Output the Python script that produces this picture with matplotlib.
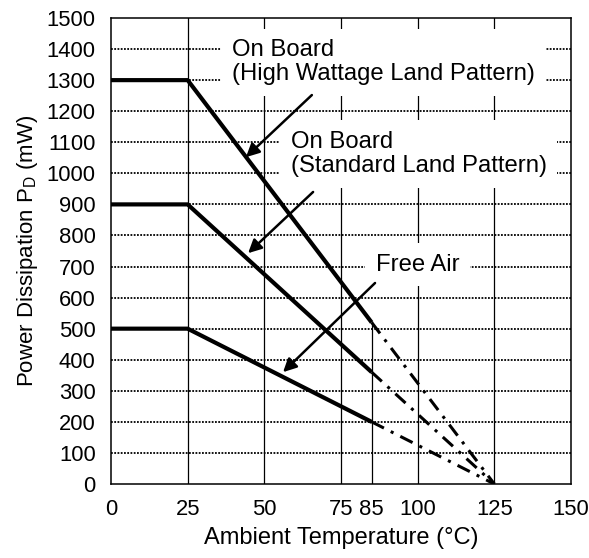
import matplotlib
matplotlib.use("Agg")
import matplotlib.pyplot as plt

plt.rcParams['font.family'] = ['Liberation Sans', 'DejaVu Sans']

# ---- data ----
temp_points = [0, 25, 85]          # solid part (°C)
temp_extrap = [85, 125]            # dash-dot extrapolation
hw_solid = [1300, 1300, 520]       # On Board (High Wattage Land Pattern)
hw_extrap = [520, 0]
std_solid = [900, 900, 360]        # On Board (Standard Land Pattern)
std_extrap = [360, 0]
air_solid = [500, 500, 200]        # Free Air
air_extrap = [200, 0]

x_ticks = [0, 25, 50, 75, 85, 100, 125, 150]
y_ticks = list(range(0, 1501, 100))
v_grid = [25, 50, 75, 100, 125]
drop_x = 85
drop_top = 520

labels = ["On Board\n(High Wattage Land Pattern)",
          "On Board\n(Standard Land Pattern)",
          "Free Air"]
label_pos = [(39.5, 1358), (58.6, 1062), (86.3, 706)]
arrow_tail = [(65.5, 1252), (65.9, 940), (86.1, 647)]
arrow_head = [(44.0, 1052), (44.7, 743), (56.1, 360)]

# ---- figure ----
fig = plt.figure(figsize=(5.89, 5.58), dpi=100)
ax = fig.add_axes([111/589, 1 - 484/558, 460/589, 466/558])
ax.set_xlim(0, 150)
ax.set_ylim(0, 1500)

# grid
for y in y_ticks[1:-1]:
    ax.plot([0, 150], [y, y], color='black', lw=1.3, linestyle=(0, (1, 0.8)), zorder=1)
for x in v_grid:
    ax.plot([x, x], [0, 1500], color='black', lw=0.9, zorder=1)
ax.plot([drop_x, drop_x], [0, drop_top], color='black', lw=0.9, zorder=1)

# curves
for solid, extrap in [(hw_solid, hw_extrap), (std_solid, std_extrap), (air_solid, air_extrap)]:
    ax.plot(temp_points, solid, color='black', lw=3.0, solid_capstyle='butt', zorder=3)
    ax.plot(temp_extrap, extrap, color='black', lw=2.2,
            linestyle=(0, (4.5, 2.5, 1, 2.5)), zorder=3)

# labels & arrows
for txt, (tx, ty) in zip(labels, label_pos):
    ax.text(tx, ty, txt, ha='left', va='center', fontsize=17.2, linespacing=1.1,
            zorder=4,
            bbox=dict(facecolor='white', edgecolor='none', boxstyle='square,pad=0.45'))
for (x0, y0), (x1, y1) in zip(arrow_tail, arrow_head):
    ax.annotate('', xy=(x1, y1), xytext=(x0, y0),
                arrowprops=dict(arrowstyle='-|>', color='black', lw=1.8,
                                mutation_scale=20, shrinkA=0, shrinkB=0),
                zorder=5)

ax.set_xticks(x_ticks)
ax.set_yticks(y_ticks)
ax.tick_params(axis='both', length=0, labelsize=15.8)
ax.tick_params(axis='x', pad=11)
ax.tick_params(axis='y', pad=11)
for s in ax.spines.values():
    s.set_linewidth(1.1)
    s.set_zorder(6)

ax.set_xlabel('Ambient Temperature (°C)', fontsize=17, labelpad=5)
ax.set_ylabel(r'Power Dissipation P$_\mathregular{D}$ (mW)', fontsize=16, labelpad=5)

fig.savefig('out.png', dpi=100)
